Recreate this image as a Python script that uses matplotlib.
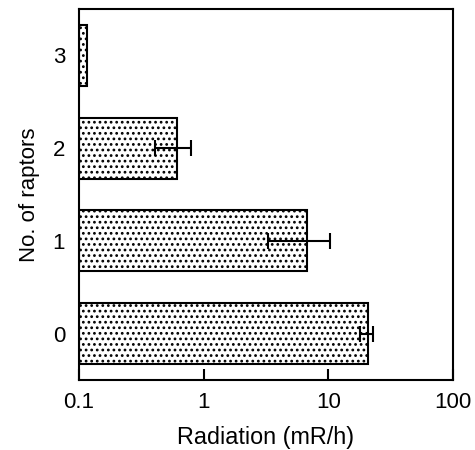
import matplotlib
matplotlib.use("Agg")
import matplotlib.pyplot as plt

categories = [0, 1, 2, 3]
values = [20.7, 6.8, 0.61, 0.115]
err_low = [17.8, 3.3, 0.41, None]
err_high = [22.7, 10.3, 0.79, None]
xticks = [0.1, 1, 10, 100]
xticklabels = ["0.1", "1", "10", "100"]

plt.rcParams['font.family'] = ['Liberation Sans', 'DejaVu Sans']
plt.rcParams['hatch.linewidth'] = 1.2

fig = plt.figure(figsize=(4.75, 4.5), dpi=100)
ax = fig.add_axes([79/475, 1-380/450, (453-79)/475, (380-9)/450])

base = 0.1
ax.barh(categories, [v - base for v in values], left=base, height=0.66,
        color='white', edgecolor='black', linewidth=1.5, hatch='...', zorder=2)

for c, v, lo, hi in zip(categories, values, err_low, err_high):
    if lo is None:
        continue
    ax.errorbar(v, c, xerr=[[v - lo], [hi - v]], fmt='none', ecolor='black',
                elinewidth=1.5, capsize=5.5, capthick=1.5, zorder=3)

ax.set_xscale('log')
ax.set_xlim(0.1, 100)
ax.set_ylim(-0.5, 3.5)
ax.set_xticks(xticks)
ax.set_xticklabels(xticklabels)
ax.xaxis.set_minor_locator(matplotlib.ticker.NullLocator())
ax.set_yticks(categories)
ax.set_yticklabels([str(c) for c in categories])
ax.tick_params(axis='x', direction='in', length=8, width=1.5, labelsize=16, pad=9)
ax.tick_params(axis='y', length=0, labelsize=16, pad=10)
for s in ax.spines.values():
    s.set_linewidth(1.5)
ax.set_xlabel('Radiation (mR/h)', fontsize=16.8, labelpad=9)
ax.set_ylabel('No. of raptors', fontsize=16, labelpad=9)

fig.savefig('out.png', dpi=100)
